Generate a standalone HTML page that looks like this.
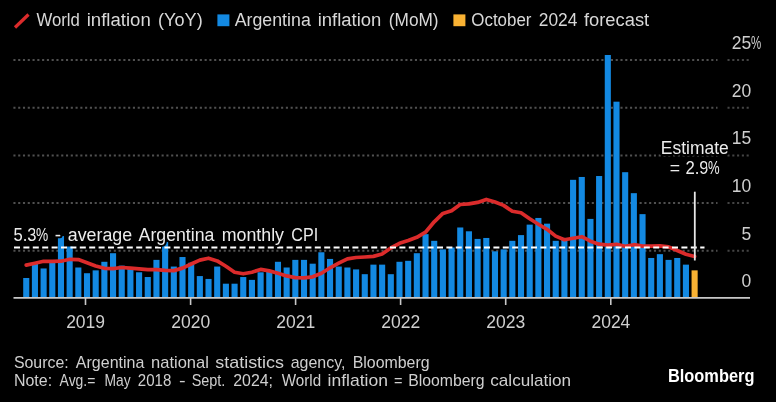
<!DOCTYPE html>
<html><head><meta charset="utf-8"><style>
html,body{margin:0;padding:0;background:#000;}
body{width:776px;height:402px;overflow:hidden;}
svg{display:block;will-change:transform;}
text{font-family:"Liberation Sans",sans-serif;fill:#d6d6d6;}
.g{stroke:#505050;stroke-width:2;stroke-dasharray:2.1 2.68;}
.g2{stroke:#444;}
.ax{font-size:17.5px;fill:#cfcfcf;}
.ay{font-size:17.5px;fill:#cfcfcf;}
.lg{font-size:17.6px;fill:#d8d8d8;}
.ft{font-size:16.2px;fill:#cfcfcf;}
.an{font-size:17.5px;fill:#ececec;stroke:#000;stroke-width:4px;paint-order:stroke;stroke-linejoin:round;}
</style></head><body>
<svg width="776" height="402" viewBox="0 0 776 402">
<rect width="776" height="402" fill="#000"/>
<!-- legend -->
<line x1="15" y1="27.5" x2="28.5" y2="14.5" stroke="#DB2B2B" stroke-width="3.2"/>
<text x="36.4" y="26.1" class="lg" textLength="43.4" lengthAdjust="spacingAndGlyphs">World</text>
<text x="86.7" y="26.1" class="lg" textLength="64.1" lengthAdjust="spacingAndGlyphs">inflation</text>
<text x="158.1" y="26.1" class="lg" textLength="44.6" lengthAdjust="spacingAndGlyphs">(YoY)</text>
<rect x="217.4" y="14.4" width="12" height="11.8" fill="#1389E2"/>
<text x="234.7" y="26.1" class="lg" textLength="76.1" lengthAdjust="spacingAndGlyphs">Argentina</text>
<text x="317.7" y="26.1" class="lg" textLength="63.7" lengthAdjust="spacingAndGlyphs">inflation</text>
<text x="388.8" y="26.1" class="lg" textLength="49.8" lengthAdjust="spacingAndGlyphs">(MoM)</text>
<rect x="453.4" y="14.4" width="12" height="11.8" fill="#F9B233"/>
<text x="471.3" y="26.1" class="lg" textLength="60.2" lengthAdjust="spacingAndGlyphs">October</text>
<text x="538.8" y="26.1" class="lg" textLength="38.6" lengthAdjust="spacingAndGlyphs">2024</text>
<text x="583.9" y="26.1" class="lg" textLength="65.3" lengthAdjust="spacingAndGlyphs">forecast</text>
<!-- grid -->
<line x1="13.4" x2="717.5" y1="250.7" y2="250.7" class="g"/>
<line x1="727.5" x2="750" y1="250.7" y2="250.7" class="g g2"/>
<line x1="13.4" x2="717.5" y1="203.0" y2="203.0" class="g"/>
<line x1="727.5" x2="750" y1="203.0" y2="203.0" class="g g2"/>
<line x1="13.4" x2="717.5" y1="155.4" y2="155.4" class="g"/>
<line x1="727.5" x2="750" y1="155.4" y2="155.4" class="g g2"/>
<line x1="13.4" x2="717.5" y1="107.7" y2="107.7" class="g"/>
<line x1="727.5" x2="750" y1="107.7" y2="107.7" class="g g2"/>
<line x1="13.4" x2="717.5" y1="60.1" y2="60.1" class="g"/>
<line x1="727.5" x2="750" y1="60.1" y2="60.1" class="g g2"/>
<!-- bars -->
<rect x="23.20" y="277.99" width="6.1" height="20.01" fill="#1389E2"/>
<rect x="31.88" y="262.74" width="6.1" height="35.26" fill="#1389E2"/>
<rect x="40.56" y="268.46" width="6.1" height="29.54" fill="#1389E2"/>
<rect x="49.24" y="260.83" width="6.1" height="37.17" fill="#1389E2"/>
<rect x="57.92" y="236.06" width="6.1" height="61.94" fill="#1389E2"/>
<rect x="66.60" y="246.54" width="6.1" height="51.46" fill="#1389E2"/>
<rect x="75.28" y="267.50" width="6.1" height="30.50" fill="#1389E2"/>
<rect x="83.96" y="273.22" width="6.1" height="24.78" fill="#1389E2"/>
<rect x="92.64" y="270.36" width="6.1" height="27.64" fill="#1389E2"/>
<rect x="101.32" y="261.79" width="6.1" height="36.21" fill="#1389E2"/>
<rect x="110.00" y="253.21" width="6.1" height="44.79" fill="#1389E2"/>
<rect x="118.68" y="265.60" width="6.1" height="32.40" fill="#1389E2"/>
<rect x="127.36" y="268.46" width="6.1" height="29.54" fill="#1389E2"/>
<rect x="136.04" y="272.27" width="6.1" height="25.73" fill="#1389E2"/>
<rect x="144.72" y="277.03" width="6.1" height="20.97" fill="#1389E2"/>
<rect x="153.40" y="259.88" width="6.1" height="38.12" fill="#1389E2"/>
<rect x="162.08" y="241.77" width="6.1" height="56.23" fill="#1389E2"/>
<rect x="170.76" y="266.55" width="6.1" height="31.45" fill="#1389E2"/>
<rect x="179.44" y="257.02" width="6.1" height="40.98" fill="#1389E2"/>
<rect x="188.12" y="262.74" width="6.1" height="35.26" fill="#1389E2"/>
<rect x="196.80" y="276.08" width="6.1" height="21.92" fill="#1389E2"/>
<rect x="205.48" y="278.94" width="6.1" height="19.06" fill="#1389E2"/>
<rect x="214.16" y="266.55" width="6.1" height="31.45" fill="#1389E2"/>
<rect x="222.84" y="283.70" width="6.1" height="14.29" fill="#1389E2"/>
<rect x="231.52" y="283.70" width="6.1" height="14.29" fill="#1389E2"/>
<rect x="240.20" y="277.03" width="6.1" height="20.97" fill="#1389E2"/>
<rect x="248.88" y="279.89" width="6.1" height="18.11" fill="#1389E2"/>
<rect x="257.56" y="272.27" width="6.1" height="25.73" fill="#1389E2"/>
<rect x="266.24" y="271.32" width="6.1" height="26.68" fill="#1389E2"/>
<rect x="274.92" y="261.79" width="6.1" height="36.21" fill="#1389E2"/>
<rect x="283.60" y="267.50" width="6.1" height="30.50" fill="#1389E2"/>
<rect x="292.28" y="259.88" width="6.1" height="38.12" fill="#1389E2"/>
<rect x="300.96" y="259.88" width="6.1" height="38.12" fill="#1389E2"/>
<rect x="309.64" y="263.69" width="6.1" height="34.31" fill="#1389E2"/>
<rect x="318.32" y="252.26" width="6.1" height="45.74" fill="#1389E2"/>
<rect x="327.00" y="258.93" width="6.1" height="39.07" fill="#1389E2"/>
<rect x="335.68" y="266.55" width="6.1" height="31.45" fill="#1389E2"/>
<rect x="344.36" y="267.50" width="6.1" height="30.50" fill="#1389E2"/>
<rect x="353.04" y="269.41" width="6.1" height="28.59" fill="#1389E2"/>
<rect x="361.72" y="274.18" width="6.1" height="23.82" fill="#1389E2"/>
<rect x="370.40" y="264.64" width="6.1" height="33.35" fill="#1389E2"/>
<rect x="379.08" y="264.64" width="6.1" height="33.35" fill="#1389E2"/>
<rect x="387.76" y="274.18" width="6.1" height="23.82" fill="#1389E2"/>
<rect x="396.44" y="261.79" width="6.1" height="36.21" fill="#1389E2"/>
<rect x="405.12" y="260.83" width="6.1" height="37.17" fill="#1389E2"/>
<rect x="413.80" y="253.21" width="6.1" height="44.79" fill="#1389E2"/>
<rect x="422.48" y="234.15" width="6.1" height="63.85" fill="#1389E2"/>
<rect x="431.16" y="240.82" width="6.1" height="57.18" fill="#1389E2"/>
<rect x="439.84" y="249.40" width="6.1" height="48.60" fill="#1389E2"/>
<rect x="448.52" y="247.49" width="6.1" height="50.51" fill="#1389E2"/>
<rect x="457.20" y="227.48" width="6.1" height="70.52" fill="#1389E2"/>
<rect x="465.88" y="231.29" width="6.1" height="66.71" fill="#1389E2"/>
<rect x="474.56" y="238.91" width="6.1" height="59.09" fill="#1389E2"/>
<rect x="483.24" y="237.96" width="6.1" height="60.04" fill="#1389E2"/>
<rect x="491.92" y="251.30" width="6.1" height="46.70" fill="#1389E2"/>
<rect x="500.60" y="249.40" width="6.1" height="48.60" fill="#1389E2"/>
<rect x="509.28" y="240.82" width="6.1" height="57.18" fill="#1389E2"/>
<rect x="517.96" y="235.10" width="6.1" height="62.90" fill="#1389E2"/>
<rect x="526.64" y="224.62" width="6.1" height="73.38" fill="#1389E2"/>
<rect x="535.32" y="217.95" width="6.1" height="80.05" fill="#1389E2"/>
<rect x="544.00" y="223.67" width="6.1" height="74.33" fill="#1389E2"/>
<rect x="552.68" y="240.82" width="6.1" height="57.18" fill="#1389E2"/>
<rect x="561.36" y="237.96" width="6.1" height="60.04" fill="#1389E2"/>
<rect x="570.04" y="179.83" width="6.1" height="118.17" fill="#1389E2"/>
<rect x="578.72" y="176.97" width="6.1" height="121.03" fill="#1389E2"/>
<rect x="587.40" y="218.90" width="6.1" height="79.10" fill="#1389E2"/>
<rect x="596.08" y="176.02" width="6.1" height="121.98" fill="#1389E2"/>
<rect x="604.76" y="54.99" width="6.1" height="243.01" fill="#1389E2"/>
<rect x="613.44" y="101.68" width="6.1" height="196.32" fill="#1389E2"/>
<rect x="622.12" y="172.20" width="6.1" height="125.80" fill="#1389E2"/>
<rect x="630.80" y="193.17" width="6.1" height="104.83" fill="#1389E2"/>
<rect x="639.48" y="214.14" width="6.1" height="83.86" fill="#1389E2"/>
<rect x="648.16" y="257.97" width="6.1" height="40.03" fill="#1389E2"/>
<rect x="656.84" y="254.16" width="6.1" height="43.84" fill="#1389E2"/>
<rect x="665.52" y="259.88" width="6.1" height="38.12" fill="#1389E2"/>
<rect x="674.20" y="257.97" width="6.1" height="40.03" fill="#1389E2"/>
<rect x="682.88" y="264.64" width="6.1" height="33.35" fill="#1389E2"/>
<rect x="691.56" y="270.36" width="6.1" height="27.64" fill="#F9B233"/>
<!-- axis -->
<line x1="13.5" x2="750" y1="297.9" y2="297.9" stroke="#c8c8c8" stroke-width="1.8"/>
<line x1="85.5" x2="85.5" y1="298" y2="305" stroke="#c8c8c8" stroke-width="1.6"/>
<line x1="190.6" x2="190.6" y1="298" y2="305" stroke="#c8c8c8" stroke-width="1.6"/>
<line x1="295.6" x2="295.6" y1="298" y2="305" stroke="#c8c8c8" stroke-width="1.6"/>
<line x1="400.6" x2="400.6" y1="298" y2="305" stroke="#c8c8c8" stroke-width="1.6"/>
<line x1="505.7" x2="505.7" y1="298" y2="305" stroke="#c8c8c8" stroke-width="1.6"/>
<line x1="610.8" x2="610.8" y1="298" y2="305" stroke="#c8c8c8" stroke-width="1.6"/>
<text x="85.6" y="328" text-anchor="middle" class="ax">2019</text>
<text x="190.7" y="328" text-anchor="middle" class="ax">2020</text>
<text x="295.7" y="328" text-anchor="middle" class="ax">2021</text>
<text x="400.8" y="328" text-anchor="middle" class="ax">2022</text>
<text x="505.8" y="328" text-anchor="middle" class="ax">2023</text>
<text x="610.9" y="328" text-anchor="middle" class="ax">2024</text>
<text x="751.2" y="287.3" text-anchor="end" class="ay">0</text>
<text x="751.2" y="239.7" text-anchor="end" class="ay">5</text>
<text x="751.2" y="192.0" text-anchor="end" class="ay">10</text>
<text x="751.2" y="144.4" text-anchor="end" class="ay">15</text>
<text x="751.2" y="96.7" text-anchor="end" class="ay">20</text>
<text x="751.2" y="49.1" text-anchor="end" class="ay">25</text>
<text x="751" y="49.1" class="ay" textLength="10.2" lengthAdjust="spacingAndGlyphs">%</text>
<!-- world line -->
<polyline points="26.2,265.1 34.9,263.2 43.6,261.3 52.3,261.3 61.0,261.2 69.7,259.3 78.3,259.6 87.0,262.7 95.7,266.0 104.4,268.3 113.0,268.6 121.7,267.5 130.4,268.2 139.1,268.8 147.8,269.7 156.4,269.7 165.1,270.3 173.8,270.6 182.5,268.1 191.2,264.0 199.8,260.1 208.5,258.2 217.2,260.9 225.9,266.3 234.6,272.2 243.2,273.8 251.9,272.2 260.6,269.4 269.3,270.9 278.0,273.2 286.6,275.9 295.3,277.6 304.0,277.9 312.7,276.8 321.4,273.2 330.1,267.8 338.7,263.2 347.4,258.9 356.1,257.5 364.8,257.0 373.4,256.4 382.1,254.0 390.8,248.0 399.5,243.3 408.2,240.6 416.8,237.3 425.5,232.2 434.2,221.8 442.9,213.4 451.6,210.7 460.2,204.5 468.9,203.9 477.6,202.4 486.3,199.4 495.0,202.0 503.6,205.4 512.3,211.3 521.0,212.8 529.7,218.8 538.4,224.2 547.0,229.3 555.7,236.1 564.4,239.7 573.1,238.2 581.8,236.7 590.4,241.2 599.1,244.2 607.8,245.1 616.5,244.3 625.2,246.3 633.9,244.7 642.5,246.1 651.2,246.1 659.9,245.9 668.6,246.9 677.2,250.5 685.9,254.3 694.6,256.5" fill="none" stroke="#DB2B2B" stroke-width="3.7" stroke-linejoin="round" stroke-linecap="round"/>
<!-- avg line -->
<line x1="14" x2="704.5" y1="247.5" y2="247.5" stroke="#fff" stroke-width="2" stroke-dasharray="6 3.4"/>
<text x="13.5" y="241.4" class="an" textLength="23.1" lengthAdjust="spacingAndGlyphs">5.3</text>
<text x="35.9" y="241.4" class="an" textLength="12.2" lengthAdjust="spacingAndGlyphs">%</text>
<text x="54.8" y="241.4" class="an" textLength="6.3" lengthAdjust="spacingAndGlyphs">-</text>
<text x="67.8" y="241.4" class="an" textLength="64.4" lengthAdjust="spacingAndGlyphs">average</text>
<text x="138.6" y="241.4" class="an" textLength="75.8" lengthAdjust="spacingAndGlyphs">Argentina</text>
<text x="221.7" y="241.4" class="an" textLength="62.3" lengthAdjust="spacingAndGlyphs">monthly</text>
<text x="291.3" y="241.4" class="an" textLength="26.9" lengthAdjust="spacingAndGlyphs">CPI</text>
<!-- estimate -->
<line x1="694.8" x2="694.8" y1="191.7" y2="260.5" stroke="#e6e6e6" stroke-width="1.8"/>
<text x="660.8" y="154.3" class="an" textLength="67.9" lengthAdjust="spacingAndGlyphs">Estimate</text>
<text x="669.8" y="173.8" class="an" textLength="10.3" lengthAdjust="spacingAndGlyphs">=</text>
<text x="685.4" y="173.8" class="an" textLength="23.2" lengthAdjust="spacingAndGlyphs">2.9</text>
<text x="707.9" y="173.8" class="an" textLength="11.6" lengthAdjust="spacingAndGlyphs">%</text>
<!-- footer -->
<text x="13.9" y="367.6" class="ft" textLength="54.8" lengthAdjust="spacingAndGlyphs">Source:</text>
<text x="75.8" y="367.6" class="ft" textLength="68.6" lengthAdjust="spacingAndGlyphs">Argentina</text>
<text x="151.1" y="367.6" class="ft" textLength="57.8" lengthAdjust="spacingAndGlyphs">national</text>
<text x="215.2" y="367.6" class="ft" textLength="68.9" lengthAdjust="spacingAndGlyphs">statistics</text>
<text x="290.7" y="367.6" class="ft" textLength="54.8" lengthAdjust="spacingAndGlyphs">agency,</text>
<text x="352.7" y="367.6" class="ft" textLength="76.9" lengthAdjust="spacingAndGlyphs">Bloomberg</text>
<text x="13.9" y="385.6" class="ft" textLength="38.2" lengthAdjust="spacingAndGlyphs">Note:</text>
<text x="59.6" y="385.6" class="ft" textLength="35.8" lengthAdjust="spacingAndGlyphs">Avg.=</text>
<text x="104.5" y="385.6" class="ft" textLength="26.1" lengthAdjust="spacingAndGlyphs">May</text>
<text x="137.8" y="385.6" class="ft" textLength="33.5" lengthAdjust="spacingAndGlyphs">2018</text>
<text x="179.1" y="385.6" class="ft" textLength="6.6" lengthAdjust="spacingAndGlyphs">-</text>
<text x="191.7" y="385.6" class="ft" textLength="33.7" lengthAdjust="spacingAndGlyphs">Sept.</text>
<text x="233.2" y="385.6" class="ft" textLength="39.8" lengthAdjust="spacingAndGlyphs">2024;</text>
<text x="281.7" y="385.6" class="ft" textLength="39.4" lengthAdjust="spacingAndGlyphs">World</text>
<text x="327.5" y="385.6" class="ft" textLength="60.4" lengthAdjust="spacingAndGlyphs">inflation</text>
<text x="393.9" y="385.6" class="ft" textLength="8.5" lengthAdjust="spacingAndGlyphs">=</text>
<text x="408.2" y="385.6" class="ft" textLength="76.4" lengthAdjust="spacingAndGlyphs">Bloomberg</text>
<text x="490.3" y="385.6" class="ft" textLength="80.8" lengthAdjust="spacingAndGlyphs">calculation</text>
<text x="668" y="381.8" style="font-size:17.9px;font-weight:bold;fill:#fff" textLength="86.4" lengthAdjust="spacingAndGlyphs">Bloomberg</text>
</svg>
</body></html>
